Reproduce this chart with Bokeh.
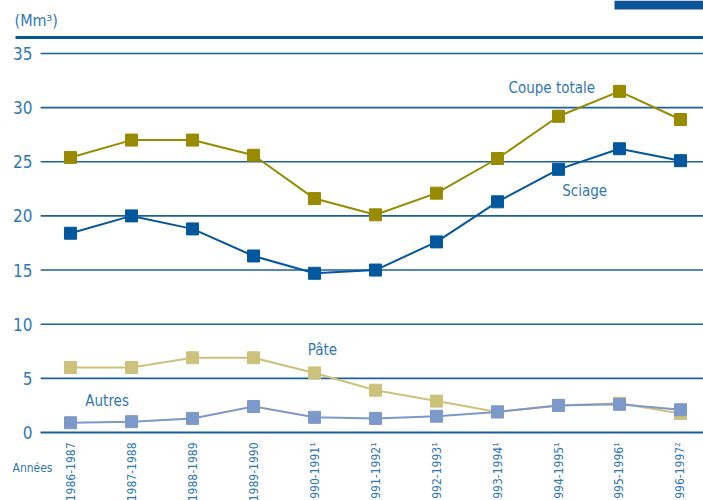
import math
from bokeh.plotting import figure
from bokeh.models import FixedTicker, Label, BoxAnnotation
from bokeh.embed import file_html
from bokeh.resources import INLINE

periods = ["1986-1987", "1987-1988", "1988-1989", "1989-1990", "1990-1991\u00b9",
           "1991-1992\u00b9", "1992-1993\u00b9", "1993-1994\u00b9", "1994-1995\u00b9",
           "1995-1996\u00b9", "1996-1997\u00b2"]
coupe_totale = [25.4, 27.0, 27.0, 25.6, 21.6, 20.1, 22.1, 25.3, 29.2, 31.5, 28.9]
sciage = [18.4, 20.0, 18.8, 16.3, 14.7, 15.0, 17.6, 21.3, 24.3, 26.2, 25.1]
pate = [6.0, 6.0, 6.9, 6.9, 5.5, 3.9, 2.9, 1.9, 2.5, 2.7, 1.75]
autres = [0.9, 1.0, 1.3, 2.4, 1.4, 1.3, 1.5, 1.9, 2.5, 2.6, 2.1]
y_ticks = [0, 5, 10, 15, 20, 25, 30, 35]

FONT = "'DejaVu Sans Condensed', 'Liberation Sans Narrow', sans-serif"
TXT = "#2f78b6"
GRID = "#1b5f9b"
DARK = "#0b5596"

x = list(range(len(periods)))
X0, X1 = -0.49, 10.38   # extent of the plotting area proper

p = figure(frame_width=693, frame_height=500, output_backend="svg", toolbar_location=None,
           x_range=(-0.984, 10.377), y_range=(-6.28, 39.89),
           min_border_left=10, min_border_right=0, min_border_top=0, min_border_bottom=0)
p.outline_line_color = None
p.background_fill_color = "white"
p.xgrid.grid_line_color = None
p.ygrid.grid_line_color = None

# horizontal gridlines (not at 0: the axis line plays that role)
gy = [t for t in y_ticks if t > 0]
p.segment(x0=[X0] * len(gy), x1=[X1] * len(gy), y0=gy, y1=gy,
          line_color=GRID, line_width=1.6)

p.yaxis.ticker = FixedTicker(ticks=y_ticks)
p.yaxis.axis_line_color = None
p.yaxis.major_tick_line_color = None
p.yaxis.minor_tick_line_color = None
p.yaxis.major_tick_out = 0
p.yaxis.major_tick_in = 0
p.yaxis.major_label_standoff = -22
p.yaxis.major_label_text_font = FONT
p.yaxis.major_label_text_font_size = "17px"
p.yaxis.major_label_text_color = TXT

p.xaxis.fixed_location = 0
p.xaxis.ticker = FixedTicker(ticks=x)
p.xaxis.bounds = (X0, X1)
p.xaxis.major_label_overrides = {i: lab for i, lab in enumerate(periods)}
p.xaxis.major_label_orientation = math.pi / 2
p.xaxis.axis_line_color = GRID
p.xaxis.axis_line_width = 2
p.xaxis.major_tick_line_color = None
p.xaxis.minor_tick_line_color = None
p.xaxis.major_tick_out = 0
p.xaxis.major_tick_in = 0
p.xaxis.major_label_standoff = 10
p.xaxis.major_label_text_font = FONT
p.xaxis.major_label_text_font_size = "12px"
p.xaxis.major_label_text_color = TXT

series = [
    (coupe_totale, "#988b00"),
    (sciage, "#03589d"),
    (pate, "#cdc27b"),
    (autres, "#7c99c9"),
]
for ys, col in series:
    p.line(x, ys, line_color=col, line_width=2)
    p.scatter(x, ys, marker="square", size=12, fill_color=col, line_color=col)

for txt, lx, ly in [("Coupe totale", 7.89, 31.8), ("Sciage", 8.43, 22.3),
                    ("Pâte", 4.13, 7.6), ("Autres", 0.6, 2.95)]:
    p.add_layout(Label(x=lx, y=ly, text=txt, text_align="center", text_baseline="middle",
                       text_font=FONT, text_font_size="15px", text_color=TXT))

p.add_layout(Label(x=-0.918, y=38.04, text="(Mm\u00b3)",
                   text_baseline="middle", text_font=FONT, text_font_size="16px",
                   text_color=TXT))
p.add_layout(Label(x=-0.951, y=-3.32, text="Années",
                   text_baseline="middle", text_font=FONT, text_font_size="12px",
                   text_color=TXT))

# header rule and the small block at top right
p.add_layout(BoxAnnotation(left=-0.902, bottom=36.34, top=36.62, fill_color=DARK,
                           fill_alpha=1, line_color=None))
p.add_layout(BoxAnnotation(left=8.918, bottom=39.06, fill_color=DARK, fill_alpha=1,
                           line_color=None))

open("out.html", "w").write(file_html(p, INLINE))
